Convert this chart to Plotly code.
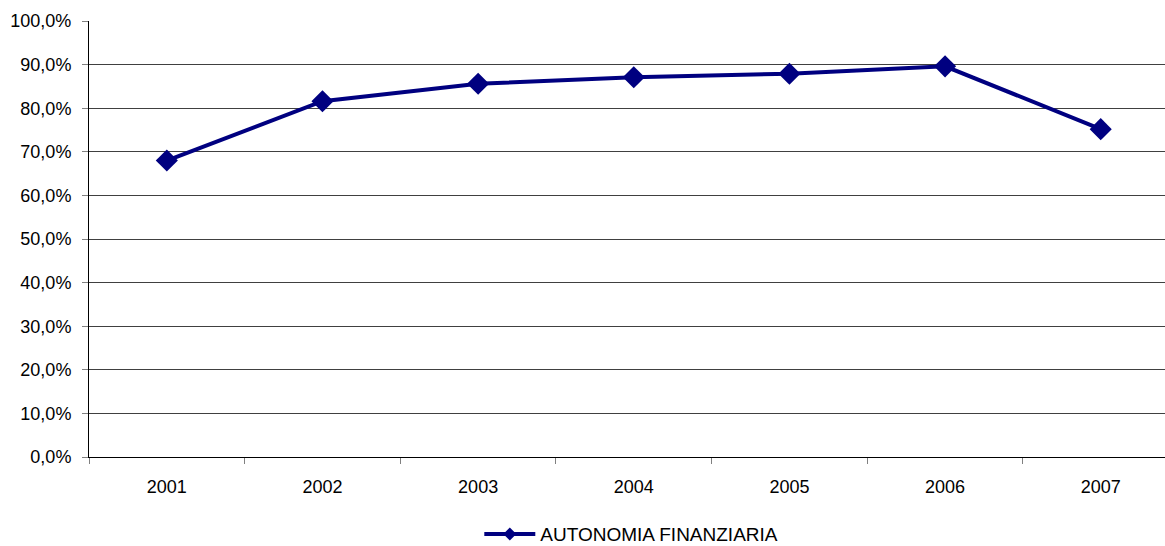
import plotly.graph_objects as go

years = ["2001", "2002", "2003", "2004", "2005", "2006", "2007"]
autonomia = [68.0, 81.6, 85.6, 87.1, 87.9, 89.6, 75.2]
series_name = "AUTONOMIA FINANZIARIA"

FONT = "Liberation Sans, Arial, sans-serif"
NAVY = "#000080"

fig = go.Figure()
fig.add_trace(go.Scatter(
    x=years, y=autonomia, name=series_name, mode="lines+markers",
    line=dict(color=NAVY, width=4),
    marker=dict(symbol="diamond", size=17, color=NAVY),
    showlegend=False,
))
# legend entry with the smaller legend marker seen in the reference
fig.add_trace(go.Scatter(
    x=[None], y=[None], name=series_name, mode="lines+markers",
    line=dict(color=NAVY, width=4),
    marker=dict(symbol="diamond", size=10, color=NAVY),
    showlegend=True, hoverinfo="skip",
))

fig.update_layout(
    width=1165, height=546,
    margin=dict(l=89, r=0, t=21, b=89, autoexpand=False),
    paper_bgcolor="white", plot_bgcolor="white",
    separators=",.",
    font=dict(family=FONT, size=18, color="#000000"),
    showlegend=True,
    legend=dict(orientation="h", x=0.504, xanchor="center", y=-0.177, yanchor="middle",
                font=dict(size=19), itemwidth=51, bgcolor="rgba(0,0,0,0)"),
    xaxis=dict(type="category", range=[-0.5, 6.413], showgrid=False,
               showline=True, linecolor="#000000", linewidth=1,
               ticks="outside", tickson="boundaries", ticklen=6, tickcolor="#808080",
               ticklabelstandoff=13, zeroline=False),
    yaxis=dict(range=[0, 100], dtick=10, tickformat=".1f", ticksuffix="%",
               showgrid=True, gridcolor="#404040", gridwidth=1,
               showline=True, linecolor="#000000", linewidth=1,
               ticks="outside", ticklen=6, tickcolor="#808080",
               ticklabelstandoff=7, zeroline=False),
)

fig.write_html(
    "out.html",
    config={"displayModeBar": False},
    post_script="document.body.style.margin='0';document.body.style.overflow='hidden';",
)
